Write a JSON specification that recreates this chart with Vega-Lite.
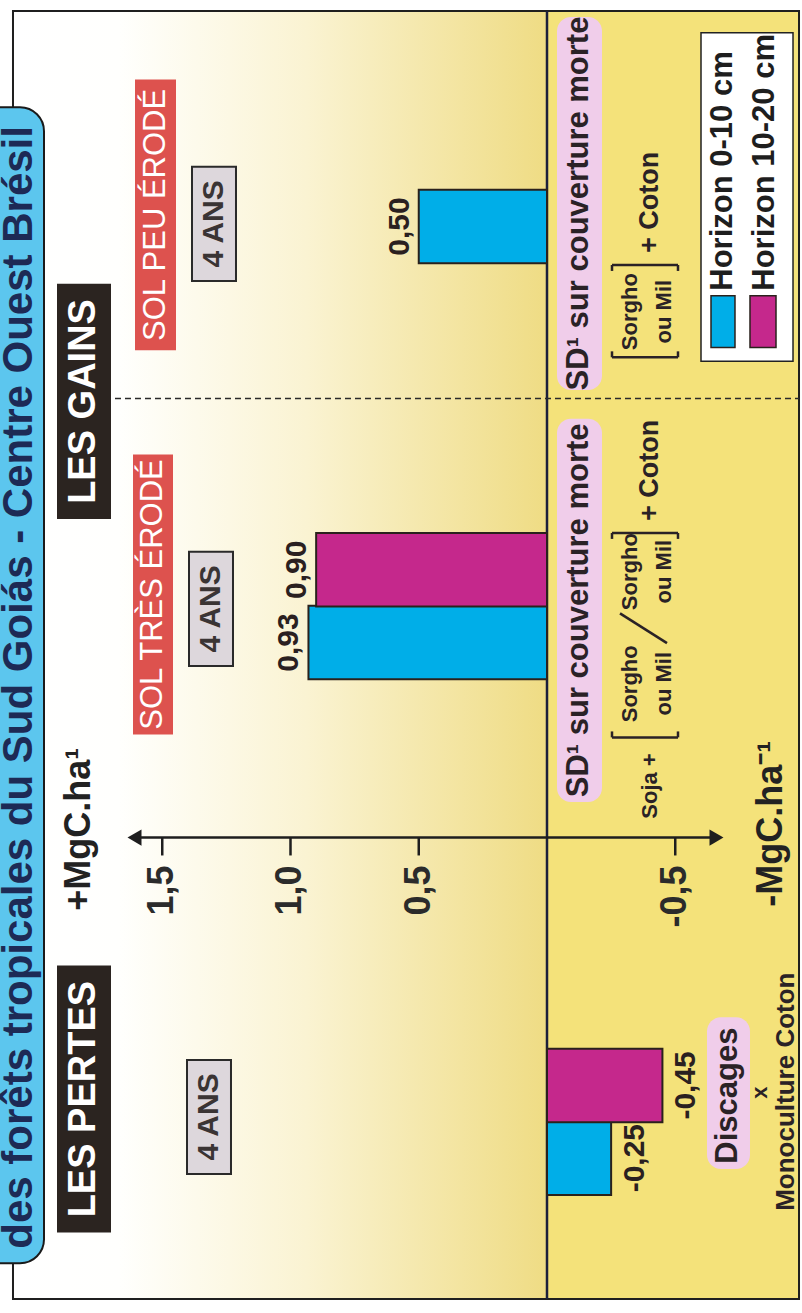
{
  "$schema": "https://vega.github.io/schema/vega-lite/v6.json",
  "width": 802,
  "height": 1313,
  "padding": 0,
  "autosize": {"type": "none"},
  "background": "#ffffff",
  "config": {"view": {"stroke": null}, "font": "Liberation Sans"},
  "datasets": {
    "cadres": [
      {"nom": "fond gauche", "genre": "fond_degrade", "x1": 2.0819, "x2": 0, "y1": 99.54, "y2": 0.6855},
      {"nom": "fond droit", "genre": "fond_jaune", "x1": 0, "x2": -0.9825, "y1": 99.54, "y2": 0.6855},
      {"nom": "cadre", "genre": "cadre", "x1": 2.0819, "x2": -0.9825, "y1": 99.54, "y2": 0.6855},
      {"nom": "titre", "genre": "titre", "x1": 2.2495, "x2": 1.961, "y1": 92.16, "y2": 3.427},
      {"nom": "LES PERTES", "genre": "noir", "x1": 1.9103, "x2": 1.6998, "y1": 26.276, "y2": 5.788},
      {"nom": "LES GAINS", "genre": "noir", "x1": 1.9103, "x2": 1.6998, "y1": 78.599, "y2": 60.548},
      {"nom": "4 ANS pertes", "genre": "gris", "x1": 1.4035, "x2": 1.232, "y1": 19.04, "y2": 10.282},
      {"nom": "4 ANS tres", "genre": "gris", "x1": 1.3957, "x2": 1.2242, "y1": 58.035, "y2": 49.276},
      {"nom": "4 ANS peu", "genre": "gris", "x1": 1.384, "x2": 1.2125, "y1": 87.586, "y2": 78.827},
      {"nom": "SOL TRÈS ÉRODÉ", "genre": "rouge", "x1": 1.614, "x2": 1.4581, "y1": 65.499, "y2": 44.021},
      {"nom": "SOL PEU ÉRODÉ", "genre": "rouge", "x1": 1.6062, "x2": 1.4464, "y1": 94.288, "y2": 73.496},
      {"nom": "SD tres", "genre": "rose", "x1": -0.039, "x2": -0.2144, "y1": 68.24, "y2": 38.842},
      {"nom": "SD peu", "genre": "rose", "x1": -0.039, "x2": -0.2144, "y1": 99.086, "y2": 70.449},
      {"nom": "Discages", "genre": "rose", "x1": -0.6238, "x2": -0.7914, "y1": 22.315, "y2": 10.663},
      {"nom": "légende", "genre": "legende", "x1": -0.6004, "x2": -0.9591, "y1": 97.867, "y2": 72.658}
    ],
    "traits": [
      {"genre": "zero", "x1": 0, "x2": 0, "y1": 99.54, "y2": 0.6855},
      {"genre": "tirets", "x1": 1.6842, "x2": -0.9825, "y1": 69.802, "y2": 69.802},
      {"genre": "axe", "x1": 1.6062, "x2": -0.6433, "y1": 36.101, "y2": 36.101},
      {"genre": "crochet", "x1": -0.2534, "x2": -0.5107, "y1": 43.793, "y2": 43.793},
      {"genre": "crochet", "x1": -0.2534, "x2": -0.2534, "y1": 43.793, "y2": 44.25},
      {"genre": "crochet", "x1": -0.5107, "x2": -0.5107, "y1": 43.793, "y2": 44.25},
      {"genre": "crochet", "x1": -0.2534, "x2": -0.5107, "y1": 59.482, "y2": 59.482},
      {"genre": "crochet", "x1": -0.2534, "x2": -0.2534, "y1": 59.482, "y2": 59.025},
      {"genre": "crochet", "x1": -0.5107, "x2": -0.5107, "y1": 59.482, "y2": 59.025},
      {"genre": "crochet", "x1": -0.4678, "x2": -0.2846, "y1": 51.028, "y2": 53.313},
      {"genre": "crochet", "x1": -0.2534, "x2": -0.5107, "y1": 72.963, "y2": 72.963},
      {"genre": "crochet", "x1": -0.2534, "x2": -0.2534, "y1": 72.963, "y2": 73.42},
      {"genre": "crochet", "x1": -0.5107, "x2": -0.5107, "y1": 72.963, "y2": 73.42},
      {"genre": "crochet", "x1": -0.2534, "x2": -0.5107, "y1": 80.046, "y2": 80.046},
      {"genre": "crochet", "x1": -0.2534, "x2": -0.2534, "y1": 80.046, "y2": 79.59},
      {"genre": "crochet", "x1": -0.5107, "x2": -0.5107, "y1": 80.046, "y2": 79.59}
    ],
    "graduations": [
      {"valeur": 1.5, "etiquette": "1,5"},
      {"valeur": 1.0, "etiquette": "1,0"},
      {"valeur": 0.5, "etiquette": "0,5"},
      {"valeur": -0.5, "etiquette": "-0,5"}
    ],
    "fleches": [
      {"cote": "gauche", "x": 1.6082, "y": 36.101},
      {"cote": "droite", "x": -0.6608, "y": 36.101}
    ],
    "barres": [
      {"traitement": "Discages x Monoculture Coton", "horizon": "Horizon 0-10 cm", "valeur": -0.25, "etiquette": "-0,25", "pos": 11.5},
      {"traitement": "Discages x Monoculture Coton", "horizon": "Horizon 10-20 cm", "valeur": -0.45, "etiquette": "-0,45", "pos": 17.083},
      {"traitement": "SD sol très érodé", "horizon": "Horizon 0-10 cm", "valeur": 0.93, "etiquette": "0,93", "pos": 51.066},
      {"traitement": "SD sol très érodé", "horizon": "Horizon 10-20 cm", "valeur": 0.9, "etiquette": "0,90", "pos": 56.649},
      {"traitement": "SD sol peu érodé", "horizon": "Horizon 0-10 cm", "valeur": 0.5, "etiquette": "0,50", "pos": 82.993}
    ],
    "legende": [
      {"horizon": "Horizon 0-10 cm", "xs1": -0.6394, "xs2": -0.7329, "ys1": 77.685, "ys2": 73.724, "xt": -0.6881, "yt": 78.07},
      {"horizon": "Horizon 10-20 cm", "xs1": -0.7914, "xs2": -0.8928, "ys1": 77.685, "ys2": 73.724, "xt": -0.848, "yt": 78.07}
    ],
    "textes": [
      {"texte": "des forêts tropicales du Sud Goiás - Centre Ouest Brésil", "genre": "titre", "x": 2.0569, "y": 90.71},
      {"texte": "LES PERTES", "genre": "noir", "x": 1.8051, "y": 16.032},
      {"texte": "LES GAINS", "genre": "noir", "x": 1.8051, "y": 69.574},
      {"texte": "4 ANS", "genre": "gris", "x": 1.3177, "y": 14.661},
      {"texte": "4 ANS", "genre": "gris", "x": 1.3099, "y": 53.656},
      {"texte": "4 ANS", "genre": "gris", "x": 1.2982, "y": 83.206},
      {"texte": "SOL TRÈS ÉRODÉ", "genre": "rouge", "x": 1.5361, "y": 54.76},
      {"texte": "SOL PEU ÉRODÉ", "genre": "rouge", "x": 1.5263, "y": 83.892},
      {"texte": "SD¹ sur couverture morte", "genre": "rose", "x": -0.1267, "y": 53.541},
      {"texte": "SD¹ sur couverture morte", "genre": "rose", "x": -0.1267, "y": 84.768},
      {"texte": "Discages", "genre": "rose", "x": -0.7076, "y": 16.298},
      {"texte": "x", "genre": "petit", "x": -0.8304, "y": 16.527},
      {"texte": "Monoculture Coton", "genre": "moyen", "x": -0.9318, "y": 16.603},
      {"texte": "+MgC.ha¹", "genre": "unite", "x": 1.8265, "y": 36.748},
      {"texte": "-MgC.ha⁻¹", "genre": "unite", "x": -0.8733, "y": 37.167},
      {"texte": "Soja +", "genre": "petit", "x": -0.4016, "y": 40.061},
      {"texte": "Sorgho", "genre": "petit", "x": -0.3236, "y": 47.906},
      {"texte": "ou Mil", "genre": "petit", "x": -0.4561, "y": 47.906},
      {"texte": "Sorgho", "genre": "petit", "x": -0.3236, "y": 56.512},
      {"texte": "ou Mil", "genre": "petit", "x": -0.4561, "y": 56.512},
      {"texte": "+ Coton", "genre": "suite", "x": -0.4016, "y": 60.396},
      {"texte": "Sorgho", "genre": "petit", "x": -0.3236, "y": 76.466},
      {"texte": "ou Mil", "genre": "petit", "x": -0.4561, "y": 76.466},
      {"texte": "+ Coton", "genre": "suite", "x": -0.4016, "y": 80.96}
    ]
  },
  "layer": [
    {
      "data": {"name": "cadres"},
      "transform": [{"filter": "datum.genre === 'fond_degrade'"}],
      "mark": {"type": "rect", "fill": {"gradient": "linear", "x1": 0, "y1": 0, "x2": 1, "y2": 0, "stops": [{"offset": 0, "color": "#ffffff"}, {"offset": 0.2, "color": "#fffffd"}, {"offset": 0.55, "color": "#faf3d2"}, {"offset": 1, "color": "#efdc84"}]}},
      "encoding": {
        "x": {"field": "x1", "type": "quantitative", "scale": {"domain": [-0.99415, 2.13255], "reverse": true, "nice": false, "zero": false}, "axis": null},
        "x2": {"field": "x2"},
        "y": {"field": "y1", "type": "quantitative", "scale": {"domain": [0, 100], "nice": false, "zero": false}, "axis": null},
        "y2": {"field": "y2"}
      }
    },
    {
      "data": {"name": "cadres"},
      "transform": [{"filter": "datum.genre === 'fond_jaune'"}],
      "mark": {"type": "rect", "fill": "#f4e27a"},
      "encoding": {"x": {"field": "x1", "type": "quantitative", "axis": null}, "x2": {"field": "x2"}, "y": {"field": "y1", "type": "quantitative", "axis": null}, "y2": {"field": "y2"}}
    },
    {
      "data": {"name": "cadres"},
      "transform": [{"filter": "datum.genre === 'cadre'"}],
      "mark": {"type": "rect", "fillOpacity": 0, "stroke": "#1f1f1f", "strokeWidth": 2},
      "encoding": {"x": {"field": "x1", "type": "quantitative", "axis": null}, "x2": {"field": "x2"}, "y": {"field": "y1", "type": "quantitative", "axis": null}, "y2": {"field": "y2"}}
    },
    {
      "data": {"name": "traits"},
      "transform": [{"filter": "datum.genre === 'zero'"}],
      "mark": {"type": "rule", "color": "#1b1f3b", "strokeWidth": 2.5},
      "encoding": {"x": {"field": "x1", "type": "quantitative", "axis": null}, "x2": {"field": "x2"}, "y": {"field": "y1", "type": "quantitative", "axis": null}, "y2": {"field": "y2"}}
    },
    {
      "data": {"name": "traits"},
      "transform": [{"filter": "datum.genre === 'tirets'"}],
      "mark": {"type": "rule", "color": "#2a2a2a", "strokeWidth": 1.5, "strokeDash": [6, 4]},
      "encoding": {"x": {"field": "x1", "type": "quantitative", "axis": null}, "x2": {"field": "x2"}, "y": {"field": "y1", "type": "quantitative", "axis": null}, "y2": {"field": "y2"}}
    },
    {
      "data": {"name": "traits"},
      "transform": [{"filter": "datum.genre === 'axe'"}],
      "mark": {"type": "rule", "color": "#1e1e1e", "strokeWidth": 2.5},
      "encoding": {"x": {"field": "x1", "type": "quantitative", "axis": null}, "x2": {"field": "x2"}, "y": {"field": "y1", "type": "quantitative", "axis": null}, "y2": {"field": "y2"}}
    },
    {
      "data": {"name": "graduations"},
      "mark": {"type": "rule", "color": "#1e1e1e", "strokeWidth": 2.5},
      "encoding": {"x": {"field": "valeur", "type": "quantitative", "axis": null}, "y": {"datum": 36.101, "type": "quantitative", "axis": null}, "y2": {"datum": 34.73}}
    },
    {
      "data": {"name": "graduations"},
      "mark": {"type": "text", "angle": 270, "align": "right", "baseline": "middle", "fontSize": 36, "fontWeight": "bold", "color": "#2b2b2b"},
      "encoding": {"x": {"field": "valeur", "type": "quantitative", "axis": null}, "y": {"datum": 33.968, "type": "quantitative", "axis": null}, "text": {"field": "etiquette"}}
    },
    {
      "data": {"name": "fleches"},
      "mark": {"type": "point", "filled": true, "opacity": 1, "color": "#1e1e1e", "size": 260},
      "encoding": {
        "x": {"field": "x", "type": "quantitative", "axis": null},
        "y": {"field": "y", "type": "quantitative", "axis": null},
        "shape": {"field": "cote", "type": "nominal", "scale": {"domain": ["gauche", "droite"], "range": ["triangle-left", "triangle-right"]}, "legend": null}
      }
    },
    {
      "data": {"name": "cadres"},
      "transform": [{"filter": "datum.genre === 'titre'"}],
      "mark": {"type": "rect", "fill": "#5cc6ee", "stroke": "#1a1a1a", "strokeWidth": 2, "cornerRadius": 24},
      "encoding": {"x": {"field": "x1", "type": "quantitative", "axis": null}, "x2": {"field": "x2"}, "y": {"field": "y1", "type": "quantitative", "axis": null}, "y2": {"field": "y2"}}
    },
    {
      "data": {"name": "cadres"},
      "transform": [{"filter": "datum.genre === 'noir'"}],
      "mark": {"type": "rect", "fill": "#2b2420"},
      "encoding": {"x": {"field": "x1", "type": "quantitative", "axis": null}, "x2": {"field": "x2"}, "y": {"field": "y1", "type": "quantitative", "axis": null}, "y2": {"field": "y2"}}
    },
    {
      "data": {"name": "cadres"},
      "transform": [{"filter": "datum.genre === 'gris'"}],
      "mark": {"type": "rect", "fill": "#ddd7dc", "stroke": "#2a2a2a", "strokeWidth": 2},
      "encoding": {"x": {"field": "x1", "type": "quantitative", "axis": null}, "x2": {"field": "x2"}, "y": {"field": "y1", "type": "quantitative", "axis": null}, "y2": {"field": "y2"}}
    },
    {
      "data": {"name": "cadres"},
      "transform": [{"filter": "datum.genre === 'rouge'"}],
      "mark": {"type": "rect", "fill": "#dd524e"},
      "encoding": {"x": {"field": "x1", "type": "quantitative", "axis": null}, "x2": {"field": "x2"}, "y": {"field": "y1", "type": "quantitative", "axis": null}, "y2": {"field": "y2"}}
    },
    {
      "data": {"name": "cadres"},
      "transform": [{"filter": "datum.genre === 'rose'"}],
      "mark": {"type": "rect", "fill": "#f0cdea", "cornerRadius": 14},
      "encoding": {"x": {"field": "x1", "type": "quantitative", "axis": null}, "x2": {"field": "x2"}, "y": {"field": "y1", "type": "quantitative", "axis": null}, "y2": {"field": "y2"}}
    },
    {
      "data": {"name": "cadres"},
      "transform": [{"filter": "datum.genre === 'legende'"}],
      "mark": {"type": "rect", "fill": "#ffffff", "stroke": "#222222", "strokeWidth": 1.5},
      "encoding": {"x": {"field": "x1", "type": "quantitative", "axis": null}, "x2": {"field": "x2"}, "y": {"field": "y1", "type": "quantitative", "axis": null}, "y2": {"field": "y2"}}
    },
    {
      "data": {"name": "traits"},
      "transform": [{"filter": "datum.genre === 'crochet'"}],
      "mark": {"type": "rule", "color": "#2a2226", "strokeWidth": 2.5},
      "encoding": {"x": {"field": "x1", "type": "quantitative", "axis": null}, "x2": {"field": "x2"}, "y": {"field": "y1", "type": "quantitative", "axis": null}, "y2": {"field": "y2"}}
    },
    {
      "data": {"name": "barres"},
      "mark": {"type": "bar", "orient": "horizontal", "height": 73.5, "stroke": "#2a211c", "strokeWidth": 2},
      "encoding": {
        "x": {"field": "valeur", "type": "quantitative", "axis": null},
        "x2": {"datum": 0},
        "y": {"field": "pos", "type": "quantitative", "axis": null},
        "color": {"field": "horizon", "type": "nominal", "scale": {"domain": ["Horizon 0-10 cm", "Horizon 10-20 cm"], "range": ["#00aee8", "#c5288c"]}, "legend": null}
      }
    },
    {
      "data": {"name": "barres"},
      "transform": [{"filter": "datum.valeur > 0"}],
      "mark": {"type": "text", "angle": 270, "align": "center", "baseline": "alphabetic", "dy": -10, "fontSize": 30, "fontWeight": "bold", "color": "#2a2020"},
      "encoding": {"x": {"field": "valeur", "type": "quantitative", "axis": null}, "y": {"field": "pos", "type": "quantitative", "axis": null}, "text": {"field": "etiquette"}}
    },
    {
      "data": {"name": "barres"},
      "transform": [{"filter": "datum.valeur < 0"}],
      "mark": {"type": "text", "angle": 270, "align": "center", "baseline": "top", "dy": 9, "fontSize": 30, "fontWeight": "bold", "color": "#2a2020"},
      "encoding": {"x": {"field": "valeur", "type": "quantitative", "axis": null}, "y": {"field": "pos", "type": "quantitative", "axis": null}, "text": {"field": "etiquette"}}
    },
    {
      "data": {"name": "legende"},
      "mark": {"type": "rect", "stroke": "#2a211c", "strokeWidth": 1.5},
      "encoding": {
        "x": {"field": "xs1", "type": "quantitative", "axis": null}, "x2": {"field": "xs2"},
        "y": {"field": "ys1", "type": "quantitative", "axis": null}, "y2": {"field": "ys2"},
        "color": {"field": "horizon", "type": "nominal", "legend": null}
      }
    },
    {
      "data": {"name": "legende"},
      "mark": {"type": "text", "angle": 270, "align": "left", "baseline": "middle", "fontSize": 31, "fontWeight": "bold", "color": "#1e1e1e"},
      "encoding": {"x": {"field": "xt", "type": "quantitative", "axis": null}, "y": {"field": "yt", "type": "quantitative", "axis": null}, "text": {"field": "horizon"}}
    },
    {
      "data": {"name": "textes"},
      "transform": [{"filter": "datum.genre === 'titre'"}],
      "mark": {"type": "text", "angle": 270, "align": "right", "baseline": "middle", "fontSize": 42, "fontWeight": "bold", "color": "#1d2a55"},
      "encoding": {"x": {"field": "x", "type": "quantitative", "axis": null}, "y": {"field": "y", "type": "quantitative", "axis": null}, "text": {"field": "texte"}}
    },
    {
      "data": {"name": "textes"},
      "transform": [{"filter": "datum.genre === 'noir'"}],
      "mark": {"type": "text", "angle": 270, "align": "center", "baseline": "middle", "fontSize": 38, "fontWeight": "bold", "color": "#ffffff"},
      "encoding": {"x": {"field": "x", "type": "quantitative", "axis": null}, "y": {"field": "y", "type": "quantitative", "axis": null}, "text": {"field": "texte"}}
    },
    {
      "data": {"name": "textes"},
      "transform": [{"filter": "datum.genre === 'gris'"}],
      "mark": {"type": "text", "angle": 270, "align": "center", "baseline": "middle", "fontSize": 30, "fontWeight": "bold", "color": "#3a3434"},
      "encoding": {"x": {"field": "x", "type": "quantitative", "axis": null}, "y": {"field": "y", "type": "quantitative", "axis": null}, "text": {"field": "texte"}}
    },
    {
      "data": {"name": "textes"},
      "transform": [{"filter": "datum.genre === 'rouge'"}],
      "mark": {"type": "text", "angle": 270, "align": "center", "baseline": "middle", "fontSize": 31, "fontWeight": "normal", "color": "#ffffff"},
      "encoding": {"x": {"field": "x", "type": "quantitative", "axis": null}, "y": {"field": "y", "type": "quantitative", "axis": null}, "text": {"field": "texte"}}
    },
    {
      "data": {"name": "textes"},
      "transform": [{"filter": "datum.genre === 'rose'"}],
      "mark": {"type": "text", "angle": 270, "align": "center", "baseline": "middle", "fontSize": 31, "fontWeight": "bold", "color": "#2a2226"},
      "encoding": {"x": {"field": "x", "type": "quantitative", "axis": null}, "y": {"field": "y", "type": "quantitative", "axis": null}, "text": {"field": "texte"}}
    },
    {
      "data": {"name": "textes"},
      "transform": [{"filter": "datum.genre === 'unite'"}],
      "mark": {"type": "text", "angle": 270, "align": "center", "baseline": "middle", "fontSize": 36, "fontWeight": "bold", "color": "#222222"},
      "encoding": {"x": {"field": "x", "type": "quantitative", "axis": null}, "y": {"field": "y", "type": "quantitative", "axis": null}, "text": {"field": "texte"}}
    },
    {
      "data": {"name": "textes"},
      "transform": [{"filter": "datum.genre === 'moyen'"}],
      "mark": {"type": "text", "angle": 270, "align": "center", "baseline": "middle", "fontSize": 26, "fontWeight": "bold", "color": "#2a2226"},
      "encoding": {"x": {"field": "x", "type": "quantitative", "axis": null}, "y": {"field": "y", "type": "quantitative", "axis": null}, "text": {"field": "texte"}}
    },
    {
      "data": {"name": "textes"},
      "transform": [{"filter": "datum.genre === 'petit'"}],
      "mark": {"type": "text", "angle": 270, "align": "center", "baseline": "middle", "fontSize": 22, "fontWeight": "bold", "color": "#2a2226"},
      "encoding": {"x": {"field": "x", "type": "quantitative", "axis": null}, "y": {"field": "y", "type": "quantitative", "axis": null}, "text": {"field": "texte"}}
    },
    {
      "data": {"name": "textes"},
      "transform": [{"filter": "datum.genre === 'suite'"}],
      "mark": {"type": "text", "angle": 270, "align": "left", "baseline": "middle", "fontSize": 27, "fontWeight": "bold", "color": "#2a2226"},
      "encoding": {"x": {"field": "x", "type": "quantitative", "axis": null}, "y": {"field": "y", "type": "quantitative", "axis": null}, "text": {"field": "texte"}}
    }
  ]
}
